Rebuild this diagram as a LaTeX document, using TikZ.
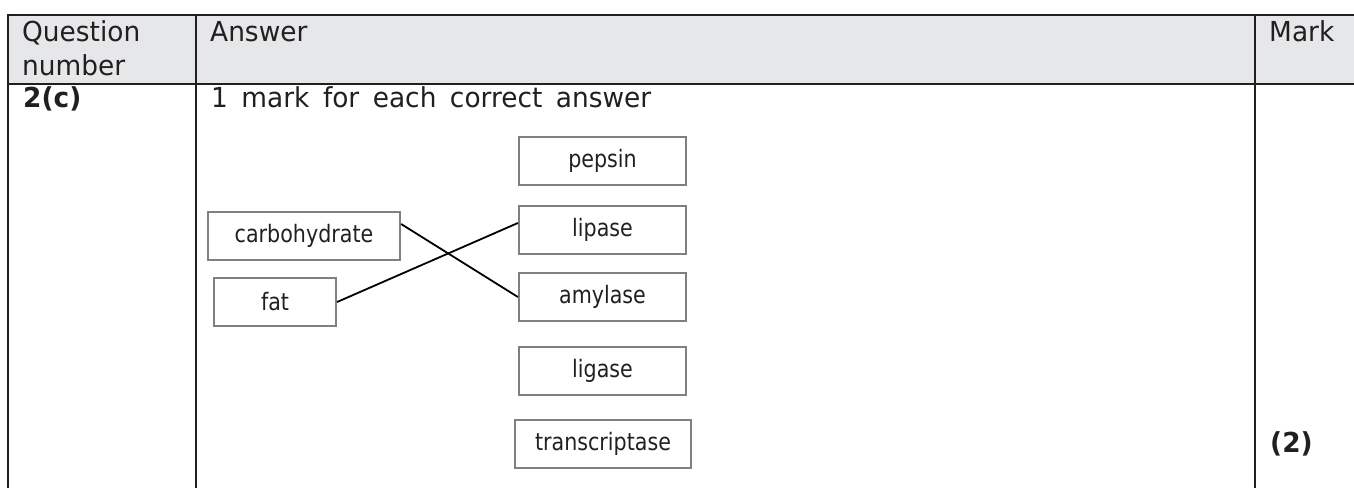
\documentclass[tikz,border=0pt]{standalone}
\usepackage{fontspec}
\setmainfont{DejaVu Sans}[FakeStretch=0.96]
\newfontfamily\boxfont{DejaVu Sans}[FakeStretch=0.86]
\usetikzlibrary{calc}
\definecolor{ink}{HTML}{231F20}
\definecolor{headfill}{HTML}{E6E7E8}
\definecolor{boxline}{HTML}{808080}
\newcommand{\cellfont}{\fontsize{27.5}{35}\selectfont\spaceskip=13.5pt plus 2pt}
\tikzset{
  rule/.style={line width=2.4pt, draw=ink},
  cell/.style={anchor=base west, inner sep=0pt, text=ink, font=\cellfont},
  boldcell/.style={cell, font=\cellfont\bfseries},
  choice/.style={draw=boxline, line width=2.2pt, rectangle, inner sep=0pt,
    minimum height=48pt, text=ink, font=\boxfont\fontsize{24}{28}\selectfont},
  link/.style={line width=1.8pt, draw=black}
}
\begin{document}
\begin{tikzpicture}[x=1pt, y=1pt]
  \useasboundingbox (0,0) rectangle (1354,488);

  % header band
  \fill[headfill] (8,473) rectangle (1354,404);

  % table rules
  \draw[rule] (8,473) -- (1354,473);
  \draw[rule] (8,404) -- (1354,404);
  \draw[rule] (8,474.2) -- (8,0);
  \draw[rule] (196,473) -- (196,0);
  \draw[rule] (1255,473) -- (1255,0);

  % header texts
  \node[cell] (hq1) at (22,446) {Question};
  \node[cell] (hq2) at (22,412) {number};
  \node[cell] (ha) at (210,446) {Answer};
  \node[cell] (hm) at (1269,446) {Mark};

  % body texts
  \node[boldcell] (qn) at (23,380) {2(c)};
  \node[cell] (instr) at (211,380) {1 mark for each correct answer};
  \node[boldcell] (mk) at (1270,36) {(2)};

  % left column of terms
  \node[choice, minimum width=192pt] (carb) at (304,252) {carbohydrate};
  \node[choice, minimum width=122pt] (fat) at (275,186) {fat};

  % right column of enzymes
  \node[choice, minimum width=167pt] (pepsin) at (602.5,327) {pepsin};
  \node[choice, minimum width=167pt] (lipase) at (602.5,258) {lipase};
  \node[choice, minimum width=167pt] (amylase) at (602.5,191) {amylase};
  \node[choice, minimum width=167pt] (ligase) at (602.5,117) {ligase};
  \node[choice, minimum width=176pt] (transcr) at (603,44) {transcriptase};

  % matching lines
  \draw[link] ($(carb.east)+(0,12)$) -- (amylase.west);
  \draw[link] (fat.east) -- ($(lipase.west)+(0,7)$);
\end{tikzpicture}
\end{document}
